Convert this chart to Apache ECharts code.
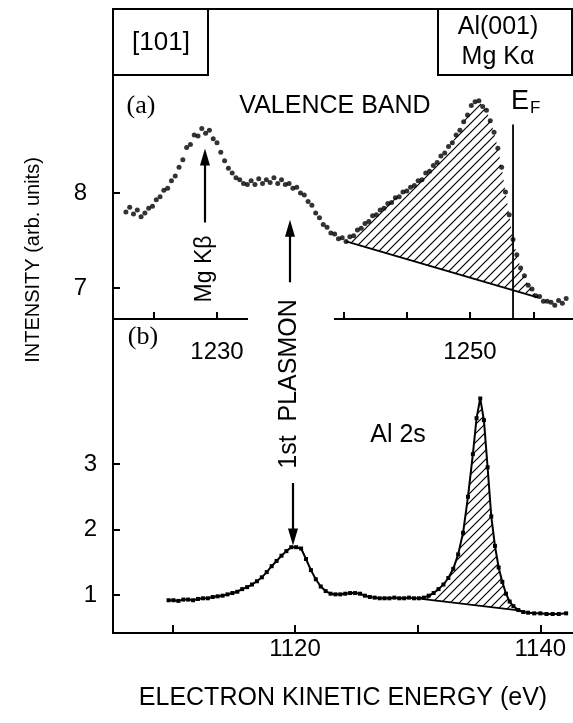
<!DOCTYPE html>
<html><head><meta charset="utf-8">
<script src="https://cdn.jsdelivr.net/npm/echarts@6/dist/echarts.min.js"></script>
<style>html,body{margin:0;padding:0;background:#fff}#c{width:573px;height:723px}</style>
</head><body><div id="c"></div>
<script>
// ---- Panel (a): valence band, Mg K-alpha ----
const energyA = [1222.8,1223.1,1223.4,1223.7,1224.0,1224.3,1224.6,1224.9,1225.2,1225.5,1225.8,1226.1,1226.4,1226.7,1227.0,1227.3,1227.6,1227.9,1228.2,1228.5,1228.8,1229.1,1229.4,1229.7,1230.0,1230.3,1230.6,1230.9,1231.2,1231.5,1231.8,1232.1,1232.4,1232.7,1233.0,1233.3,1233.6,1233.9,1234.2,1234.5,1234.8,1235.1,1235.4,1235.7,1236.0,1236.3,1236.6,1236.9,1237.2,1237.5,1237.8,1238.1,1238.4,1238.7,1239.0,1239.3,1239.6,1239.9,1240.2,1240.5,1240.8,1241.1,1241.4,1241.7,1242.0,1242.3,1242.6,1242.9,1243.2,1243.5,1243.8,1244.1,1244.4,1244.7,1245.0,1245.3,1245.6,1245.9,1246.2,1246.5,1246.8,1247.1,1247.4,1247.7,1248.0,1248.3,1248.6,1248.9,1249.2,1249.5,1249.8,1250.1,1250.4,1250.7,1251.0,1251.3,1251.6,1251.9,1252.2,1252.5,1252.8,1253.1,1253.4,1253.7,1254.0,1254.3,1254.6,1254.9,1255.2,1255.5,1255.8,1256.1,1256.4,1256.7,1257.0,1257.3,1257.6];
const intensityA = [7.80,7.85,7.78,7.82,7.75,7.79,7.84,7.86,7.93,7.96,8.03,8.05,8.13,8.18,8.27,8.35,8.48,8.51,8.61,8.60,8.68,8.63,8.66,8.57,8.53,8.43,8.34,8.26,8.21,8.16,8.14,8.10,8.09,8.13,8.09,8.15,8.10,8.14,8.11,8.16,8.10,8.14,8.09,8.10,8.05,8.06,8.00,7.98,7.91,7.87,7.79,7.74,7.67,7.64,7.58,7.57,7.52,7.53,7.49,7.54,7.55,7.61,7.63,7.68,7.70,7.76,7.77,7.82,7.84,7.89,7.90,7.95,7.96,8.01,8.02,8.06,8.08,8.13,8.14,8.21,8.23,8.29,8.32,8.39,8.42,8.49,8.53,8.61,8.66,8.75,8.82,8.92,8.96,8.97,8.91,8.87,8.76,8.64,8.47,8.27,8.01,7.77,7.51,7.35,7.21,7.13,7.03,6.99,6.92,6.91,6.86,6.86,6.85,6.82,6.87,6.84,6.89];
const baseEnergyA = [1240.2, 1255.4];
const baseIntensityA = [7.49, 6.90];
const fermiEnergy = 1253.4;
const fermiTop = 8.72;

// ---- Panel (b): Al 2s ----
const energyB = [1109.7,1110.1,1110.5,1110.9,1111.3,1111.7,1112.1,1112.5,1112.9,1113.3,1113.7,1114.1,1114.5,1114.9,1115.3,1115.7,1116.1,1116.5,1116.9,1117.3,1117.7,1118.1,1118.5,1118.9,1119.3,1119.7,1120.1,1120.5,1120.9,1121.3,1121.7,1122.1,1122.5,1122.9,1123.3,1123.7,1124.1,1124.5,1124.9,1125.3,1125.7,1126.1,1126.5,1126.9,1127.3,1127.7,1128.1,1128.5,1128.9,1129.3,1129.7,1130.1,1130.5,1130.9,1131.3,1131.7,1132.1,1132.5,1132.9,1133.3,1133.7,1134.1,1134.5,1134.8,1135.1,1135.4,1135.7,1136.0,1136.3,1136.6,1136.9,1137.2,1137.5,1137.8,1138.2,1138.6,1139.0,1139.5,1140.0,1140.5,1141.0,1141.5,1142.1];
const intensityB = [0.92,0.92,0.91,0.93,0.93,0.92,0.94,0.95,0.95,0.97,0.98,0.99,1.01,1.03,1.05,1.09,1.12,1.16,1.21,1.27,1.35,1.44,1.52,1.60,1.67,1.73,1.73,1.71,1.55,1.38,1.24,1.13,1.06,1.02,1.01,1.01,1.02,1.03,1.03,1.02,0.99,0.97,0.96,0.95,0.95,0.95,0.96,0.95,0.95,0.96,0.95,0.95,0.96,0.99,1.03,1.09,1.16,1.26,1.40,1.62,1.95,2.50,3.15,3.70,4.00,3.67,2.95,2.20,1.75,1.42,1.20,1.02,0.90,0.83,0.77,0.74,0.73,0.72,0.72,0.71,0.71,0.71,0.72];
const baseEnergyB = [1130.3, 1138.4];
const baseIntensityB = [0.94, 0.76];

// ---- ticks & labels ----
const ticksAx = [1225,1230,1235,1240,1245,1250,1255];
const labelsAx = [1230,1250];
const ticksAy = [7,8];
const ticksBx = [1110,1120,1130,1140];
const labelsBx = [1120,1140];
const ticksBy = [1,2,3];

const FONT = 'Liberation Sans, Arial, sans-serif';

function makeHatch(s){
  const c = document.createElement('canvas'); c.width = s; c.height = s;
  const g = c.getContext('2d'); g.strokeStyle = '#000'; g.lineWidth = 1.2;
  g.beginPath();
  g.moveTo(0, s); g.lineTo(s, 0);
  g.moveTo(-2, 2); g.lineTo(2, -2);
  g.moveTo(s-2, s+2); g.lineTo(s+2, s-2);
  g.stroke();
  return c;
}
const hatchImg = makeHatch(9);

function hatchRender(en, it, bE, bI){
  return function(params, api){
    const pts = [api.coord([bE[0], bI[0]])];
    for (let i = 0; i < en.length; i++) {
      if (en[i] > bE[0] && en[i] < bE[1]) pts.push(api.coord([en[i], it[i]]));
    }
    pts.push(api.coord([bE[1], bI[1]]));
    return {type:'polygon', shape:{points:pts}, style:{fill:{image:hatchImg, repeat:'repeat'}, stroke:null}};
  };
}

const labelBase = {color:'#000', fontFamily:FONT, fontSize:24, formatter:(v)=>String(v)};
const axisCommon = {
  axisLine:{show:true, onZero:false, lineStyle:{color:'#000', width:2}},
  splitLine:{show:false}
};

const chart = echarts.init(document.getElementById('c'), null, {renderer:'canvas'});
const arrowLine = {color:'#000', width:2.2, type:'solid'};

chart.setOption({
  animation:false,
  backgroundColor:'#fff',
  grid:[
    {left:113, top:9, width:460, height:310},
    {left:113, top:319, width:460, height:314}
  ],
  xAxis:[
    Object.assign({}, axisCommon, {type:'value', gridIndex:0, min:1221.78, max:1258.14,
      axisTick:{show:true, inside:true, length:7, lineStyle:{color:'#000', width:2}, customValues:ticksAx},
      axisLabel:Object.assign({}, labelBase, {customValues:labelsAx, margin:21})}),
    Object.assign({}, axisCommon, {type:'value', gridIndex:1, min:1105.17, max:1142.66,
      axisTick:{show:true, inside:true, length:8, lineStyle:{color:'#000', width:2}, customValues:ticksBx},
      axisLabel:Object.assign({}, labelBase, {customValues:labelsBx, margin:4})})
  ],
  yAxis:[
    Object.assign({}, axisCommon, {type:'value', gridIndex:0, min:6.674, max:9.937,
      axisTick:{show:true, inside:true, length:7, lineStyle:{color:'#000', width:2}, customValues:ticksAy},
      axisLabel:Object.assign({}, labelBase, {customValues:ticksAy, margin:26})}),
    Object.assign({}, axisCommon, {type:'value', gridIndex:1, min:0.42, max:5.214,
      axisTick:{show:true, inside:true, length:7, lineStyle:{color:'#000', width:2}, customValues:ticksBy},
      axisLabel:Object.assign({}, labelBase, {customValues:ticksBy, margin:16})})
  ],
  series:[
    {type:'custom', xAxisIndex:0, yAxisIndex:0, renderItem:hatchRender(energyA, intensityA, baseEnergyA, baseIntensityA), data:[[baseEnergyA[0], baseIntensityA[0]]], silent:true, z:1},
    {type:'custom', xAxisIndex:1, yAxisIndex:1, renderItem:hatchRender(energyB, intensityB, baseEnergyB, baseIntensityB), data:[[baseEnergyB[0], baseIntensityB[0]]], silent:true, z:1},
    {type:'scatter', xAxisIndex:0, yAxisIndex:0, symbol:'circle', symbolSize:5, itemStyle:{color:'#000'},
      data:energyA.map((e,i)=>[e, intensityA[i]]), silent:true, z:3,
      markLine:{silent:true, symbol:['none','triangle'], symbolSize:[10,17], lineStyle:arrowLine, label:{show:false},
        data:[[{coord:[1229.05,7.69]},{coord:[1229.05,8.38]}],[{coord:[1235.77,7.06]},{coord:[1235.77,7.63]}]]}},
    {type:'line', xAxisIndex:0, yAxisIndex:0, symbol:'none', lineStyle:{color:'#000', width:1.8},
      data:baseEnergyA.map((e,i)=>[e, baseIntensityA[i]]), silent:true, z:2},
    {type:'line', xAxisIndex:0, yAxisIndex:0, symbol:'none', lineStyle:{color:'#000', width:1.8},
      data:[[fermiEnergy, 6.674],[fermiEnergy, fermiTop]], silent:true, z:2},
    {type:'line', xAxisIndex:1, yAxisIndex:1, symbol:'rect', symbolSize:4, itemStyle:{color:'#000'}, lineStyle:{color:'#000', width:2},
      data:energyB.map((e,i)=>[e, intensityB[i]]), silent:true, z:3,
      markLine:{silent:true, symbol:['none','triangle'], symbolSize:[10,17], lineStyle:arrowLine, label:{show:false},
        data:[[{coord:[1119.84,2.71]},{coord:[1119.84,1.885]}]]}},
    {type:'line', xAxisIndex:1, yAxisIndex:1, symbol:'none', lineStyle:{color:'#000', width:1.8},
      data:baseEnergyB.map((e,i)=>[e, baseIntensityB[i]]), silent:true, z:2}
  ],
  graphic:[
    {type:'line', shape:{x1:113, y1:9, x2:572, y2:9}, style:{stroke:'#000', lineWidth:2}, z:20},
    {type:'rect', shape:{x:113, y:9, width:95, height:66}, style:{fill:null, stroke:'#000', lineWidth:2}, z:20},
    {type:'rect', shape:{x:438, y:9, width:134, height:66}, style:{fill:null, stroke:'#000', lineWidth:2}, z:20},
    {type:'rect', shape:{x:248, y:313, width:86, height:10}, style:{fill:'#fff'}, z:20},
    {type:'text', x:161, y:43, style:{text:'[101]', font:'26px '+FONT, fill:'#000', align:'center', verticalAlign:'middle'}, z:21},
    {type:'text', x:498, y:27, style:{text:'Al(001)', font:'25px '+FONT, fill:'#000', align:'center', verticalAlign:'middle'}, z:21},
    {type:'text', x:498, y:57, style:{text:'Mg Kα', font:'25px '+FONT, fill:'#000', align:'center', verticalAlign:'middle'}, z:21},
    {type:'text', x:141, y:106, style:{text:'(a)', font:'26px Liberation Serif, serif', fill:'#000', align:'center', verticalAlign:'middle'}, z:21},
    {type:'text', x:335, y:106, style:{text:'VALENCE BAND', font:'25px '+FONT, fill:'#000', align:'center', verticalAlign:'middle'}, z:21},
    {type:'text', x:511, y:102, style:{text:'{e|E}{f|F}', rich:{e:{font:'27px '+FONT, fill:'#000'}, f:{font:'17px '+FONT, fill:'#000', padding:[12,0,0,1]}}, align:'left', verticalAlign:'middle'}, z:21},
    {type:'text', x:205, y:269, rotation:Math.PI/2, style:{text:'Mg Kβ', font:'23px '+FONT, fill:'#000', align:'center', verticalAlign:'middle'}, z:21},
    {type:'text', x:289, y:384, rotation:Math.PI/2, style:{text:'1st  PLASMON', font:'25px '+FONT, fill:'#000', align:'center', verticalAlign:'middle'}, z:21},
    {type:'text', x:143, y:337, style:{text:'(b)', font:'26px Liberation Serif, serif', fill:'#000', align:'center', verticalAlign:'middle'}, z:21},
    {type:'text', x:398, y:435, style:{text:'Al 2s', font:'25px '+FONT, fill:'#000', align:'center', verticalAlign:'middle'}, z:21},
    {type:'text', x:33, y:260, rotation:Math.PI/2, style:{text:'INTENSITY (arb. units)', font:'20px '+FONT, fill:'#000', align:'center', verticalAlign:'middle'}, z:21},
    {type:'text', x:343, y:698, style:{text:'ELECTRON KINETIC ENERGY (eV)', font:'25px '+FONT, fill:'#000', align:'center', verticalAlign:'middle'}, z:21}
  ]
});
</script>
</body></html>
